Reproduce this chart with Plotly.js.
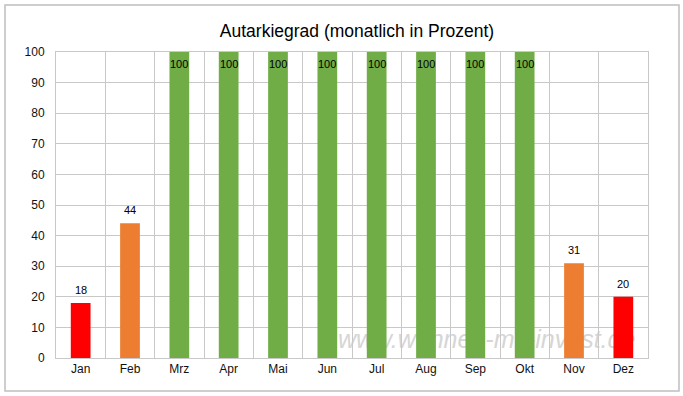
<!DOCTYPE html>
<html><head><meta charset="utf-8">
<script src="https://cdn.plot.ly/plotly-3.0.1.min.js"></script>
<style>html,body{margin:0;padding:0;background:#fff}#chart{width:683px;height:396px}</style>
</head><body><div id="chart"></div>
<script>
const months = ["Jan","Feb","Mrz","Apr","Mai","Jun","Jul","Aug","Sep","Okt","Nov","Dez"];
const autarkie = [18,44,100,100,100,100,100,100,100,100,31,20];
const barColors = ["#FF0000","#ED7D31","#70AD47","#70AD47","#70AD47","#70AD47","#70AD47","#70AD47","#70AD47","#70AD47","#ED7D31","#FF0000"];
const yTicks = [0,10,20,30,40,50,60,70,80,90,100];
const titleText = "Autarkiegrad (monatlich in Prozent)";
const watermark = "www.wohnen-mit-invest.de";

const font = "Liberation Sans, Arial, sans-serif";
const trace = {
  type: "bar",
  x: months,
  y: autarkie,
  width: 0.4,
  marker: {color: barColors},
  hoverinfo: "none"
};
const labels = months.map((m, i) => {
  const v = autarkie[i];
  const full = v >= 100;
  return {x: m, y: v, xref: "x", yref: "y", text: String(v), showarrow: false,
          xanchor: "center", yanchor: "middle", yshift: full ? -12 : 13,
          font: {family: font, size: 11, color: "#000"}};
});
const L = 56, R = 35, T = 52, B = 38, W = 683, H = 396;
const pw = W - L - R, ph = H - T - B;
const layout = {
  width: W, height: H,
  margin: {l: L, r: R, t: T, b: B, pad: 0},
  paper_bgcolor: "#fff", plot_bgcolor: "#fff",
  showlegend: false,
  title: {text: titleText, font: {family: font, size: 17.5, color: "#000"}, x: 357/W, xanchor: "center", y: 1 - 31/H, yanchor: "middle"},
  xaxis: {type: "category", tickson: "boundaries", showgrid: true, gridcolor: "#c8c8c8", gridwidth: 1,
          showline: true, linecolor: "#c8c8c8", mirror: true, ticks: "", ticklen: 0,
          tickfont: {family: font, size: 12, color: "#111"}, fixedrange: true},
  yaxis: {range: [0, 100], tickmode: "array", tickvals: yTicks, showgrid: true, gridcolor: "#c8c8c8", gridwidth: 1,
          zeroline: false, showline: true, linecolor: "#c8c8c8", mirror: true, ticks: "", ticklen: 0,
          ticklabelstandoff: 8,
          tickfont: {family: font, size: 12, color: "#111"}, fixedrange: true},
  annotations: labels,
  shapes: [
    {type: "rect", xref: "paper", yref: "paper", layer: "above",
     x0: (5 - L)/pw, x1: (679 - L)/pw, y0: (H - B - 391)/ph, y1: (H - B - 5)/ph,
     line: {color: "#bfbfbf", width: 1.5}, fillcolor: "rgba(0,0,0,0)"},
    {type: "rect", xref: "paper", yref: "paper", layer: "below",
     x0: (332 - L)/pw, x1: (648 - L)/pw, y0: (H - B - 350)/ph, y1: (H - B - 324)/ph,
     line: {width: 0}, fillcolor: "rgba(0,0,0,0)",
     label: {text: watermark, textposition: "middle left", font: {family: font, size: 25, color: "#d6d6d6", style: "italic"}}}
  ]
};
Plotly.newPlot("chart", [trace], layout, {staticPlot: true, displayModeBar: false});
</script></body></html>
